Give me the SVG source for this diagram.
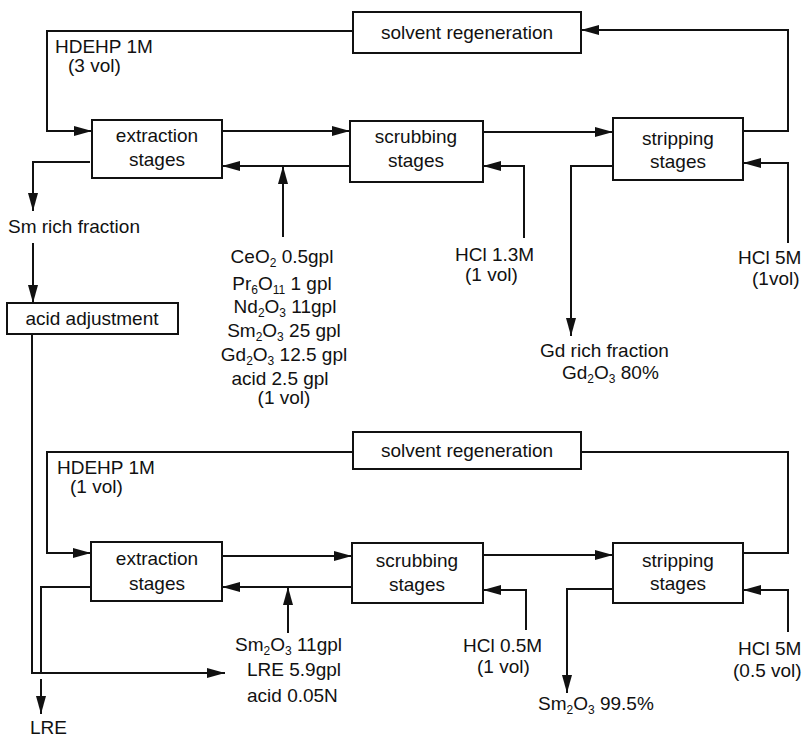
<svg xmlns="http://www.w3.org/2000/svg" width="804" height="738" viewBox="0 0 804 738">
  <style>
    text { font-family: "Liberation Sans", Arial, sans-serif; font-size: 19px; fill: #111; }
    .c { text-anchor: middle; }
    .sub { font-size: 12px; }
    .box { fill: #fff; stroke: #111; stroke-width: 2; }
    .ln { fill: none; stroke: #111; stroke-width: 2; }
    .arr { marker-end: url(#ah); }
  </style>
  <defs>
    <marker id="ah" markerUnits="userSpaceOnUse" markerWidth="19" markerHeight="11" refX="18" refY="5" orient="auto">
      <path d="M0,0 L18,5 L0,10 Z" fill="#111"/>
    </marker>
  </defs>
  <rect width="804" height="738" fill="#fff"/>

  <!-- connectors -->
  <g id="connectors">
    <!-- first cycle -->
    <path class="ln arr" d="M353,31 H47 V131 H92"/>
    <path class="ln arr" d="M222,131 H350"/>
    <path class="ln arr" d="M350,166 H222"/>
    <path class="ln arr" d="M283,237 V166"/>
    <path class="ln arr" d="M483,132 H613"/>
    <path class="ln arr" d="M743,131 H788 V30 H581"/>
    <path class="ln arr" d="M788,243 V163 H743"/>
    <path class="ln arr" d="M524,238 V166 H483"/>
    <path class="ln arr" d="M613,166 H571 V336"/>
    <path class="ln arr" d="M90,162 H33 V211"/>
    <path class="ln arr" d="M33,243 V303"/>
    <path class="ln arr" d="M32,334 V673 H225"/>
    <!-- second cycle -->
    <path class="ln arr" d="M353,452 H47 V553 H91"/>
    <path class="ln arr" d="M222,556 H352"/>
    <path class="ln arr" d="M352,587 H222"/>
    <path class="ln arr" d="M288,633 V587"/>
    <path class="ln" d="M90,587 H41 V673"/>
    <path class="ln arr" d="M41,679 V714"/>
    <path class="ln arr" d="M483,555 H613"/>
    <path class="ln" d="M743,553 H788 V452 H581"/>
    <path class="ln arr" d="M788,632 V590 H743"/>
    <path class="ln arr" d="M526,630 V590 H483"/>
    <path class="ln arr" d="M613,589 H567 V693"/>
  </g>

  <!-- first cycle nodes -->
  <g id="regen1">
    <rect class="box" x="353" y="12" width="228" height="41"/>
    <text class="c" x="467" y="39">solvent regeneration</text>
  </g>
  <g id="extract1">
    <rect class="box" x="92" y="120" width="130" height="58"/>
    <text class="c" x="157" y="142">extraction</text>
    <text class="c" x="157" y="166">stages</text>
  </g>
  <g id="scrub1">
    <rect class="box" x="350" y="121" width="133" height="61"/>
    <text class="c" x="416" y="143">scrubbing</text>
    <text class="c" x="416" y="167">stages</text>
  </g>
  <g id="strip1">
    <rect class="box" x="613" y="118" width="130" height="62"/>
    <text class="c" x="678" y="145">stripping</text>
    <text class="c" x="678" y="168">stages</text>
  </g>
  <g id="acidadj">
    <rect class="box" x="7" y="303" width="171" height="31"/>
    <text class="c" x="92" y="325">acid adjustment</text>
  </g>

  <!-- first cycle labels -->
  <g id="labels1">
    <text x="55" y="53">HDEHP 1M</text>
    <text x="68" y="72">(3 vol)</text>
    <text x="8" y="233">Sm rich fraction</text>
    <text class="c" x="282" y="263">CeO<tspan class="sub" dy="4">2</tspan><tspan dy="-4"> 0.5gpl</tspan></text>
    <text class="c" x="282" y="290">Pr<tspan class="sub" dy="4">6</tspan><tspan dy="-4">O</tspan><tspan class="sub" dy="4">11</tspan><tspan dy="-4"> 1 gpl</tspan></text>
    <text class="c" x="285" y="313">Nd<tspan class="sub" dy="4">2</tspan><tspan dy="-4">O</tspan><tspan class="sub" dy="4">3</tspan><tspan dy="-4"> 11gpl</tspan></text>
    <text class="c" x="284" y="337">Sm<tspan class="sub" dy="4">2</tspan><tspan dy="-4">O</tspan><tspan class="sub" dy="4">3</tspan><tspan dy="-4"> 25 gpl</tspan></text>
    <text class="c" x="284" y="361">Gd<tspan class="sub" dy="4">2</tspan><tspan dy="-4">O</tspan><tspan class="sub" dy="4">3</tspan><tspan dy="-4"> 12.5 gpl</tspan></text>
    <text class="c" x="280" y="385">acid 2.5 gpl</text>
    <text class="c" x="284" y="404">(1 vol)</text>
    <text x="455" y="261">HCl 1.3M</text>
    <text x="465" y="281">(1 vol)</text>
    <text x="738" y="264">HCl 5M</text>
    <text x="752" y="285">(1vol)</text>
    <text x="540" y="357">Gd rich fraction</text>
    <text x="562" y="379">Gd<tspan class="sub" dy="4">2</tspan><tspan dy="-4">O</tspan><tspan class="sub" dy="4">3</tspan><tspan dy="-4"> 80%</tspan></text>
  </g>

  <!-- second cycle nodes -->
  <g id="regen2">
    <rect class="box" x="353" y="432" width="228" height="37"/>
    <text class="c" x="467" y="457">solvent regeneration</text>
  </g>
  <g id="extract2">
    <rect class="box" x="91" y="542" width="131" height="59"/>
    <text class="c" x="157" y="565">extraction</text>
    <text class="c" x="157" y="590">stages</text>
  </g>
  <g id="scrub2">
    <rect class="box" x="352" y="543" width="131" height="60"/>
    <text class="c" x="417" y="567">scrubbing</text>
    <text class="c" x="417" y="591">stages</text>
  </g>
  <g id="strip2">
    <rect class="box" x="613" y="543" width="130" height="60"/>
    <text class="c" x="678" y="567">stripping</text>
    <text class="c" x="678" y="590">stages</text>
  </g>

  <!-- second cycle labels -->
  <g id="labels2">
    <text x="57" y="474">HDEHP 1M</text>
    <text x="70" y="493">(1 vol)</text>
    <text x="235" y="651">Sm<tspan class="sub" dy="4">2</tspan><tspan dy="-4">O</tspan><tspan class="sub" dy="4">3</tspan><tspan dy="-4"> 11gpl</tspan></text>
    <text x="247" y="676">LRE 5.9gpl</text>
    <text x="247" y="702">acid 0.05N</text>
    <text x="463" y="652">HCl 0.5M</text>
    <text x="477" y="673">(1 vol)</text>
    <text x="738" y="655">HCl 5M</text>
    <text x="733" y="677">(0.5 vol)</text>
    <text x="538" y="710">Sm<tspan class="sub" dy="4">2</tspan><tspan dy="-4">O</tspan><tspan class="sub" dy="4">3</tspan><tspan dy="-4"> 99.5%</tspan></text>
    <text x="30" y="734">LRE</text>
  </g>
</svg>
